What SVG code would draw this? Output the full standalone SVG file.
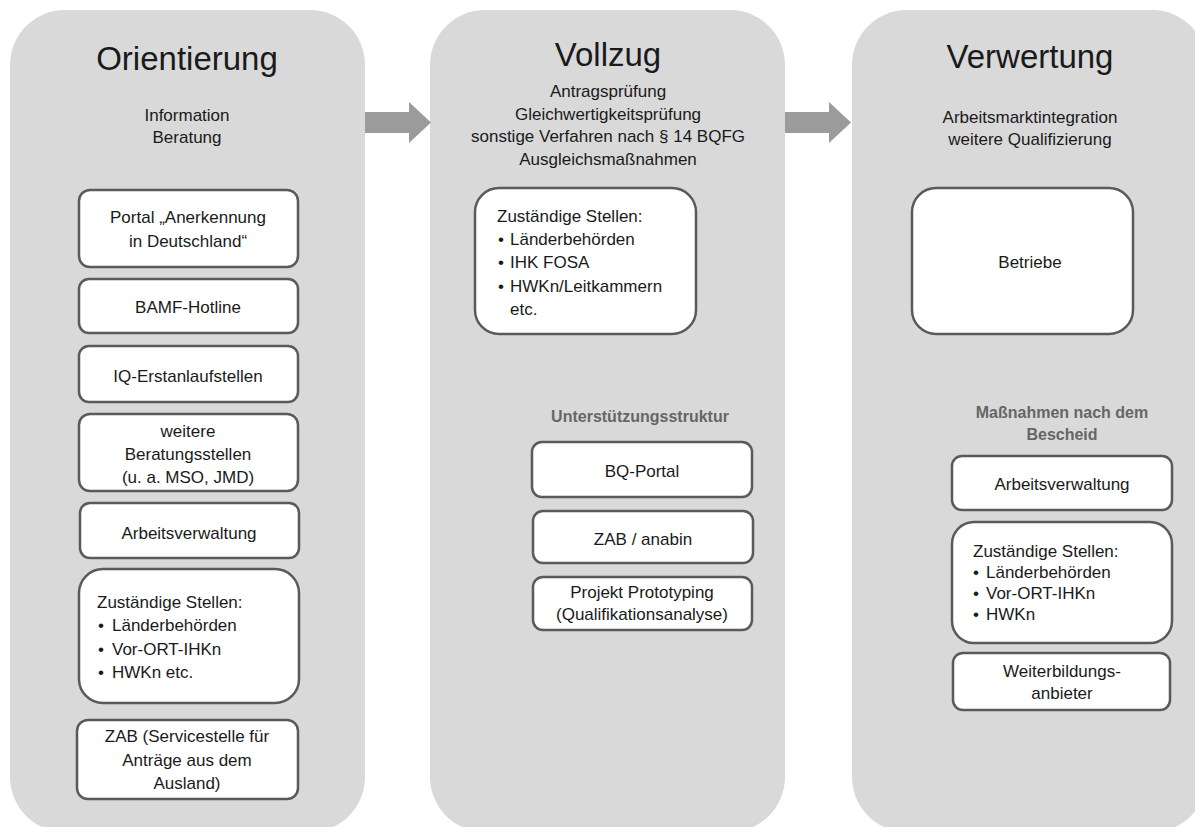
<svg xmlns="http://www.w3.org/2000/svg" width="1195" height="827" viewBox="0 0 1195 827">
<style>
.col{fill:#d9d9d9}
.box{fill:#ffffff;stroke:#5a5a5a;stroke-width:2.5}
.arr{fill:#9b9b9b}
text{font-family:"Liberation Sans",Arial,sans-serif;fill:#1a1a1a}
.h{font-size:33px;text-anchor:middle}
.t{font-size:17px;text-anchor:middle}
.l{font-size:17px}
.s{font-size:16px;font-weight:bold;fill:#666666;text-anchor:middle}
</style>
<rect width="1195" height="827" fill="#ffffff"/>
<g id="columns">
<g id="col-orientierung">
<rect class="col" x="10" y="10" width="355" height="822" rx="55"/>
<text class="h" x="187" y="70">Orientierung</text>
<text class="t" x="187" y="121">Information</text>
<text class="t" x="187" y="143">Beratung</text>
</g>
<g id="col-vollzug">
<rect class="col" x="430" y="10" width="355" height="822" rx="55"/>
<text class="h" x="608" y="66">Vollzug</text>
<text class="t" x="608" y="97">Antragsprüfung</text>
<text class="t" x="608" y="120">Gleichwertigkeitsprüfung</text>
<text class="t" x="608" y="142">sonstige Verfahren nach § 14 BQFG</text>
<text class="t" x="608" y="165">Ausgleichsmaßnahmen</text>
<text class="s" x="640" y="422">Unterstützungsstruktur</text>
</g>
<g id="col-verwertung">
<rect class="col" x="852" y="10" width="355" height="822" rx="55"/>
<text class="h" x="1030" y="68">Verwertung</text>
<text class="t" x="1030" y="123">Arbeitsmarktintegration</text>
<text class="t" x="1030" y="145">weitere Qualifizierung</text>
<text class="s" x="1062" y="418">Maßnahmen nach dem</text>
<text class="s" x="1062" y="440">Bescheid</text>
</g>
</g>
<g id="connectors">
<polygon class="arr" points="365,112 409,112 409,102 431,122.5 409,143 409,133 365,133"/>
<polygon class="arr" points="785,112 829,112 829,102 851,122.5 829,143 829,133 785,133"/>
</g>
<g id="n-portal"><rect class="box" x="79" y="190" width="219" height="77" rx="11"/>
<text class="t" x="188" y="223">Portal „Anerkennung</text>
<text class="t" x="188" y="247">in Deutschland“</text></g>
<g id="n-bamf"><rect class="box" x="79" y="279" width="219" height="54" rx="10"/>
<text class="t" x="188" y="313">BAMF-Hotline</text></g>
<g id="n-iq"><rect class="box" x="79" y="346" width="219" height="56" rx="10"/>
<text class="t" x="188" y="382">IQ-Erstanlaufstellen</text></g>
<g id="n-weitere"><rect class="box" x="79" y="414" width="219" height="77" rx="11"/>
<text class="t" x="188" y="437">weitere</text>
<text class="t" x="188" y="460">Beratungsstellen</text>
<text class="t" x="188" y="483">(u. a. MSO, JMD)</text></g>
<g id="n-arbeit1"><rect class="box" x="80" y="503" width="219" height="55" rx="10"/>
<text class="t" x="189" y="539">Arbeitsverwaltung</text></g>
<g id="n-zust1"><rect class="box" x="79" y="569" width="220" height="134" rx="24"/>
<text class="l" x="97" y="608">Zuständige Stellen:</text>
<text class="l" x="98" y="631">•</text><text class="l" x="112" y="631">Länderbehörden</text>
<text class="l" x="98" y="655">•</text><text class="l" x="112" y="655">Vor-ORT-IHKn</text>
<text class="l" x="98" y="678">•</text><text class="l" x="112" y="678">HWKn etc.</text></g>
<g id="n-zab"><rect class="box" x="77" y="720" width="221" height="79" rx="11"/>
<text class="t" x="187" y="742">ZAB (Servicestelle für</text>
<text class="t" x="187" y="766">Anträge aus dem</text>
<text class="t" x="187" y="789">Ausland)</text></g>
<g id="n-zust2"><rect class="box" x="475" y="188" width="221" height="146" rx="24"/>
<text class="l" x="497" y="222">Zuständige Stellen:</text>
<text class="l" x="498" y="245">•</text><text class="l" x="510" y="245">Länderbehörden</text>
<text class="l" x="498" y="268">•</text><text class="l" x="510" y="268">IHK FOSA</text>
<text class="l" x="498" y="292">•</text><text class="l" x="510" y="292">HWKn/Leitkammern</text>
<text class="l" x="510" y="315">etc.</text></g>
<g id="n-bq"><rect class="box" x="532" y="442" width="220" height="55" rx="10"/>
<text class="t" x="642" y="477">BQ-Portal</text></g>
<g id="n-anabin"><rect class="box" x="533" y="511" width="220" height="52" rx="10"/>
<text class="t" x="643" y="545">ZAB / anabin</text></g>
<g id="n-proto"><rect class="box" x="533" y="577" width="219" height="53" rx="10"/>
<text class="t" x="642" y="598">Projekt Prototyping</text>
<text class="t" x="642" y="620">(Qualifikationsanalyse)</text></g>
<g id="n-betriebe"><rect class="box" x="912" y="188" width="221" height="146" rx="24"/>
<text class="t" x="1030" y="268">Betriebe</text></g>
<g id="n-arbeit3"><rect class="box" x="952" y="456" width="220" height="54" rx="10"/>
<text class="t" x="1062" y="490">Arbeitsverwaltung</text></g>
<g id="n-zust3"><rect class="box" x="952" y="522" width="220" height="121" rx="22"/>
<text class="l" x="973" y="557">Zuständige Stellen:</text>
<text class="l" x="973" y="578">•</text><text class="l" x="986" y="578">Länderbehörden</text>
<text class="l" x="973" y="599">•</text><text class="l" x="986" y="599">Vor-ORT-IHKn</text>
<text class="l" x="973" y="620">•</text><text class="l" x="986" y="620">HWKn</text></g>
<g id="n-weiterbildung"><rect class="box" x="953" y="653" width="217" height="57" rx="10"/>
<text class="t" x="1062" y="677">Weiterbildungs-</text>
<text class="t" x="1062" y="699">anbieter</text></g>
</svg>
